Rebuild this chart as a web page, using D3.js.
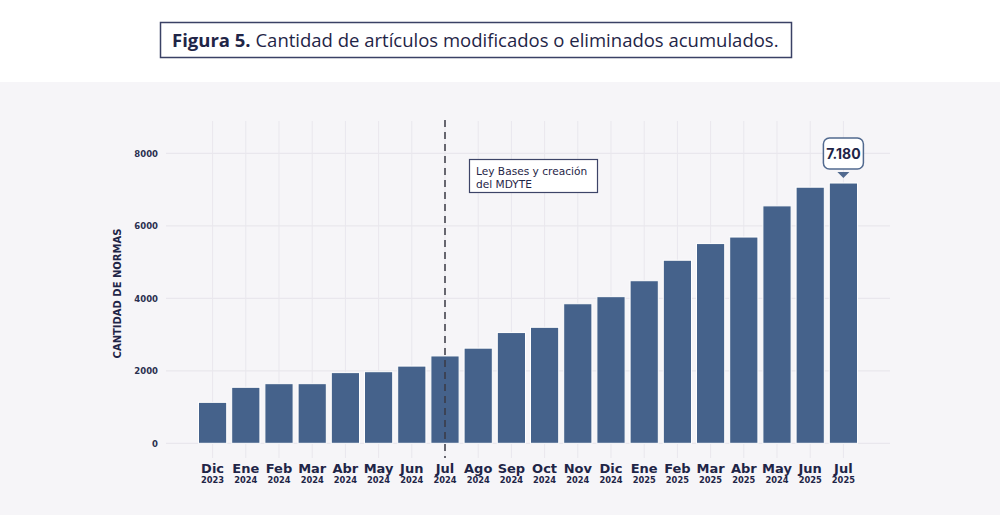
<!DOCTYPE html>
<html>
<head>
<meta charset="utf-8">
<script src="https://cdn.jsdelivr.net/npm/d3@7"></script>
<style>
  body { margin: 0; background: #fff; }
  svg { display: block; }
</style>
</head>
<body>
<div id="chart"></div>
<script>
// meses y años de cada barra
let months = ['Dic', 'Ene', 'Feb', 'Mar', 'Abr', 'May', 'Jun', 'Jul', 'Ago', 'Sep',
              'Oct', 'Nov', 'Dic', 'Ene', 'Feb', 'Mar', 'Abr', 'May', 'Jun', 'Jul']
let years = ['2023', '2024', '2024', '2024', '2024', '2024', '2024', '2024', '2024', '2024',
             '2024', '2024', '2024', '2025', '2025', '2025', '2025', '2024', '2025', '2025']
// cantidad acumulada de normas
let values = [1130, 1545, 1645, 1645, 1950, 1975, 2130, 2410, 2625, 3055,
              3200, 3850, 4045, 4485, 5050, 5510, 5690, 6550, 7065, 7180]
let yTicks = [0, 2000, 4000, 6000, 8000]
let markerIndex = 7 // Jul 2024: Ley Bases
let noteLines = ['Ley Bases y creación', 'del MDYTE']
let lastLabel = '7.180'

let navy = '#1f2547'
let barColor = '#45628b'
let gridColor = '#e9e7ed'
let axisFont = 'DejaVu Sans'

let svg = d3.select('#chart')
  .append('svg')
    .attr('width', 1000)
    .attr('height', 521)

// fondo del panel
svg.append('rect')
  .attr('x', 0).attr('y', 82)
  .attr('width', 1000).attr('height', 433)
  .attr('fill', '#f6f5f8')

// titulo
svg.append('rect')
  .attr('x', 160.5).attr('y', 22.5)
  .attr('width', 631).attr('height', 35)
  .attr('fill', '#fff')
  .attr('stroke', '#3a4165')
  .attr('stroke-width', 1.5)

let title = svg.append('text')
  .attr('x', 172).attr('y', 46.5)
  .attr('font-family', 'Open Sans')
  .attr('font-size', 18.5)
  .attr('fill', navy)
title.append('tspan').attr('font-weight', 700).text('Figura 5.')
title.append('tspan').text(' Cantidad de artículos modificados o eliminados acumulados.')

let keys = values.map((d, i) => i)

let x = d3.scaleBand()
  .domain(keys)
  .range([196, 860])
  .paddingInner(0.15)
  .paddingOuter(0.075)

let y = d3.scaleLinear()
  .domain([0, 8000])
  .range([443.3, 153.3])

let g = svg.append('g')

// grilla vertical
g.selectAll('.vgrid')
  .data(keys)
  .enter()
  .append('line')
    .attr('x1', (d) => x(d) + x.bandwidth() / 2)
    .attr('x2', (d) => x(d) + x.bandwidth() / 2)
    .attr('y1', 121)
    .attr('y2', 458)
    .attr('stroke', gridColor)
    .attr('stroke-width', 1)

// grilla horizontal
g.selectAll('.hgrid')
  .data(yTicks)
  .enter()
  .append('line')
    .attr('x1', 166)
    .attr('x2', 890)
    .attr('y1', (d) => y(d))
    .attr('y2', (d) => y(d))
    .attr('stroke', gridColor)
    .attr('stroke-width', 1.2)

// eje y
let yAxis = svg.append('g')
  .attr('transform', 'translate(158,0)')
  .call(d3.axisLeft(y).tickValues(yTicks).tickSize(0).tickPadding(0).tickFormat(d3.format('d')))
yAxis.select('.domain').remove()
yAxis.selectAll('text')
  .attr('font-family', axisFont)
  .attr('font-weight', 700)
  .attr('font-size', 8.5)
  .attr('fill', '#2b3050')

svg.append('text')
  .attr('transform', 'translate(120.5,293.5) rotate(-90)')
  .attr('text-anchor', 'middle')
  .attr('font-family', axisFont)
  .attr('font-weight', 700)
  .attr('font-size', 10)
  .attr('fill', navy)
  .text('CANTIDAD DE NORMAS')

// barras
g.selectAll('.bar')
  .data(values)
  .enter()
  .append('rect')
    .attr('x', (d, i) => x(i))
    .attr('y', (d) => y(d))
    .attr('width', x.bandwidth())
    .attr('height', (d) => y(0) - y(d))
    .attr('fill', barColor)
    .attr('stroke', '#ffffff')
    .attr('stroke-width', 1)

// etiquetas del eje x
g.selectAll('.month')
  .data(months)
  .enter()
  .append('text')
    .attr('x', (d, i) => x(i) + x.bandwidth() / 2)
    .attr('y', 473)
    .attr('text-anchor', 'middle')
    .attr('font-family', axisFont)
    .attr('font-weight', 700)
    .attr('font-size', 13)
    .attr('fill', navy)
    .text((d) => d)

g.selectAll('.year')
  .data(years)
  .enter()
  .append('text')
    .attr('x', (d, i) => x(i) + x.bandwidth() / 2)
    .attr('y', 483)
    .attr('text-anchor', 'middle')
    .attr('font-family', axisFont)
    .attr('font-weight', 700)
    .attr('font-size', 8.3)
    .attr('fill', navy)
    .text((d) => d)

// linea punteada Ley Bases
let mx = x(markerIndex) + x.bandwidth() / 2
svg.append('line')
  .attr('x1', mx).attr('x2', mx)
  .attr('y1', 120).attr('y2', 458)
  .attr('stroke', '#3a3a44')
  .attr('stroke-width', 1.5)
  .attr('stroke-dasharray', '7,5')

svg.append('rect')
  .attr('x', 469.5).attr('y', 159.5)
  .attr('width', 128).attr('height', 33)
  .attr('fill', '#fff')
  .attr('stroke', '#3d4468')
  .attr('stroke-width', 1.2)

svg.append('text')
  .attr('x', 476).attr('y', 174.5)
  .attr('font-family', axisFont)
  .attr('font-size', 10.6)
  .attr('fill', navy)
  .selectAll('tspan')
  .data(noteLines)
  .enter()
  .append('tspan')
    .attr('x', 476)
    .attr('dy', (d, i) => i === 0 ? 0 : 13)
    .text((d) => d)

// etiqueta del ultimo valor
let last = values.length - 1
let lx = x(last) + x.bandwidth() / 2
let ly = y(values[last])
svg.append('rect')
  .attr('x', lx - 20).attr('y', ly - 45)
  .attr('width', 40).attr('height', 31)
  .attr('rx', 6)
  .attr('fill', '#fff')
  .attr('stroke', '#51698f')
  .attr('stroke-width', 1.5)

svg.append('text')
  .attr('x', lx).attr('y', ly - 24)
  .attr('text-anchor', 'middle')
  .attr('font-family', 'Inter')
  .attr('font-weight', 700)
  .attr('font-size', 14)
  .attr('fill', navy)
  .text(lastLabel)

svg.append('path')
  .attr('d', `M${lx - 6},${ly - 11} L${lx + 6},${ly - 11} L${lx},${ly - 5} Z`)
  .attr('fill', '#51698f')
</script>
</body>
</html>
